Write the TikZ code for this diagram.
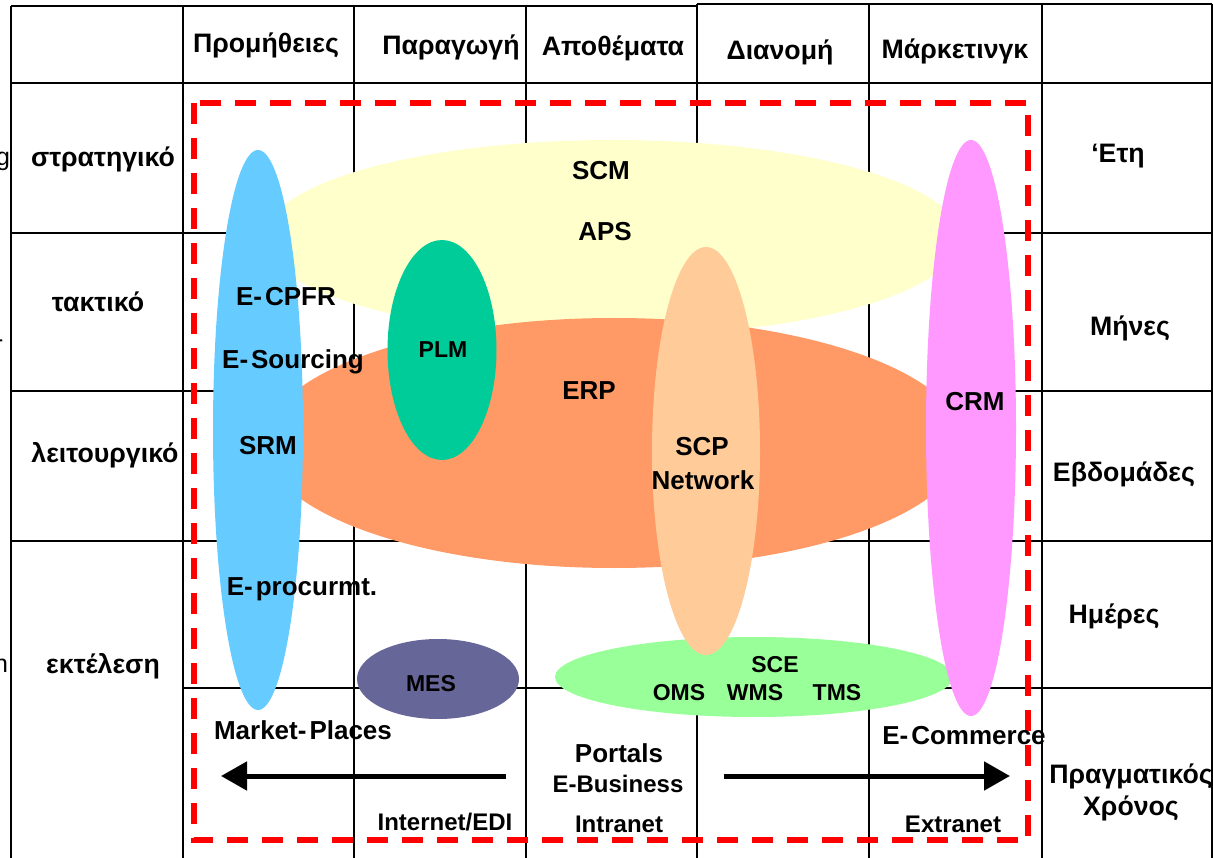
\documentclass[tikz,border=0pt]{standalone}
\usepackage{fontspec}
\setmainfont{Liberation Sans}
\usetikzlibrary{shapes.geometric,arrows.meta}
\definecolor{cScm}{HTML}{FFFFCC}
\definecolor{cErp}{HTML}{FF9966}
\definecolor{cPlm}{HTML}{00CC99}
\definecolor{cSce}{HTML}{99FF99}
\definecolor{cScp}{HTML}{FFCC99}
\definecolor{cSrm}{HTML}{66CCFF}
\definecolor{cCrm}{HTML}{FF99FF}
\definecolor{cMes}{HTML}{666699}
\definecolor{cRed}{HTML}{FF0000}
\newcommand{\hy}{-\kern3pt\relax}
\tikzset{
  gridline/.style={line width=1.5pt, draw=black},
  blob/.style={ellipse, inner sep=0pt, draw=none},
  lbl/.style={anchor=base, inner sep=0pt, font=\bfseries\fontsize{26}{31}\selectfont},
  grk/.style={anchor=base, inner sep=0pt, font=\bfseries\fontsize{26.7}{32}\selectfont},
  mid/.style={anchor=base, inner sep=0pt, font=\bfseries\fontsize{24}{29}\selectfont},
  sml/.style={anchor=base, inner sep=0pt, font=\bfseries\fontsize{23}{28}\selectfont},
  stray/.style={anchor=base west, inner sep=0pt, font=\fontsize{25}{30}\selectfont},
  reddash/.style={draw=cRed, line width=6pt, dash pattern=on 21pt off 14pt},
  bigarrow/.style={line width=5pt, -{Triangle[length=26pt,width=28pt]}}
}
\begin{document}
\begin{tikzpicture}[x=1pt,y=-1pt]
\useasboundingbox (0,0) rectangle (1213,858);
\fill[white] (0,0) rectangle (1213,858);

% grid
\draw[gridline] (11,6) -- (697,6);
\draw[gridline] (697,4) -- (1212,4);
\foreach \x in {11,183,354,526} \draw[gridline] (\x,6) -- (\x,858);
\foreach \x in {697,869,1042,1212} \draw[gridline] (\x,4) -- (\x,858);
\foreach \y in {83,233,391,541} \draw[gridline] (11,\y) -- (1212,\y);
\draw[gridline] (183,688) -- (1212,688);

% ellipses
\node[blob, fill=cScm, minimum width=696pt, minimum height=196pt] (scm) at (612,238) {};
\node[blob, fill=cErp, minimum width=700pt, minimum height=250pt] (erp) at (614,443) {};
\node[blob, fill=cPlm, minimum width=109pt, minimum height=220pt] (plm) at (442,350) {};
\node[blob, fill=cSce, minimum width=398pt, minimum height=80pt] (sce) at (754,677) {};
\node[blob, fill=cScp, minimum width=108pt, minimum height=408pt] (scp) at (706,451) {};
\node[blob, fill=cSrm, minimum width=90pt, minimum height=560pt] (srm) at (258,430) {};
\node[blob, fill=cCrm, minimum width=90pt, minimum height=576pt] (crm) at (971,428) {};
\node[blob, fill=cMes, minimum width=162pt, minimum height=80pt] (mes) at (438,679) {};

% red dashed frame
\draw[reddash] (194,103) rectangle (1028,840);

% arrows
\coordinate (la) at (506,776);
\coordinate (lb) at (221,776);
\coordinate (ra) at (724,776);
\coordinate (rb) at (1010,776);
\draw[bigarrow] (la) -- (lb);
\draw[bigarrow] (ra) -- (rb);

% stray clipped letters at the left edge (as in the reference)
\node[stray] (s1) at (-4,166) {g};
\node[stray] (s2) at (-5,348) {-};
\node[stray] (s3) at (-6,672) {n};

% header
\node[grk] (h1) at (266,53) {Προμήθειες};
\node[grk] (h2) at (451,55) {Παραγωγή};
\node[grk] (h3) at (613,56) {Αποθέματα};
\node[grk] (h4) at (780,60) {Διανομή};
\node[grk] (h5) at (955,59) {Μάρκετινγκ};

% left column
\node[grk] (l1) at (103,167) {στρατηγικό};
\node[grk] (l2) at (98,312) {τακτικό};
\node[grk] (l3) at (105,462) {λειτουργικό};
\node[grk] (l4) at (103,673) {εκτέλεση};

% right column
\node[grk] (r1) at (1118,163) {‘Ετη};
\node[grk] (r2) at (1130,336) {Μήνες};
\node[grk] (r3) at (1124,481) {Εβδομάδες};
\node[grk] (r4) at (1114,623) {Ημέρες};
\node[grk] (r5) at (1131,783) {Πραγματικός};
\node[grk] (r6) at (1131,815) {Χρόνος};

% inner labels
\node[lbl] (tscm) at (601,180) {SCM};
\node[lbl] (taps) at (605,241) {APS};
\node[lbl] (tcpfr) at (286,306) {E\hy CPFR};
\node[lbl] (tsrc) at (293,369) {E\hy Sourcing};
\node[lbl] (tsrm) at (268,454) {SRM};
\node[sml] (tplm) at (443,358) {PLM};
\node[lbl] (terp) at (589,400) {ERP};
\node[lbl] (tscp) at (702,455) {SCP};
\node[lbl] (tnet) at (703,489) {Network};
\node[lbl] (tcrm) at (975,411) {CRM};
\node[lbl] (tproc) at (302,595) {E\hy procurmt.};
\node[sml] (tmes) at (431,691) {MES};
\node[sml] (tsce) at (775,672) {SCE};
\node[sml] (toms) at (679,700) {OMS};
\node[sml] (twms) at (755,700) {WMS};
\node[sml] (ttms) at (837,700) {TMS};
\node[lbl] (tmkt) at (303,739) {Market\hy Places};
\node[lbl] (tcom) at (964,744) {E\hy Commerce};
\node[lbl] (tport) at (619,762) {Portals};
\node[mid] (tbus) at (618,792) {E-Business};
\node[mid] (tintra) at (619,832) {Intranet};
\node[mid] (tinter) at (445,830) {Internet/EDI};
\node[mid] (textra) at (953,832) {Extranet};
\end{tikzpicture}
\end{document}
